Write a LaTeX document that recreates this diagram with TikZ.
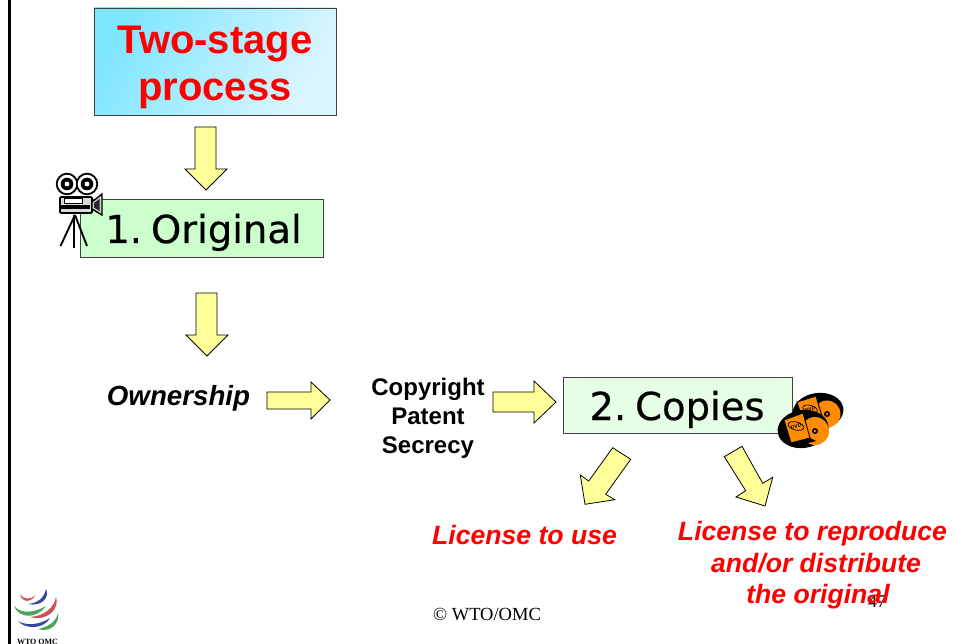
\documentclass[tikz,border=0pt]{standalone}
\usepackage{fontspec}
\setmainfont{Liberation Sans}
\newfontfamily\vfont[FakeBold=0.5,WordSpace=0.4]{DejaVu Sans}
\newfontfamily\tfont{Liberation Serif}
\usetikzlibrary{shadings}
\definecolor{arrowfill}{HTML}{FFFF99}
\definecolor{titleA}{HTML}{7FE6FF}
\definecolor{titleB}{HTML}{DCF6FF}
\definecolor{origfill}{HTML}{CCFFCC}
\definecolor{copyfill}{HTML}{E6FFE6}
\definecolor{dvdorange}{HTML}{FF8C00}
\definecolor{wred}{HTML}{D0505A}
\definecolor{wblue}{HTML}{34499C}
\definecolor{wgreen}{HTML}{4AA65A}
\tikzset{
  blockarrow/.style={draw=black,line width=0.8pt,fill=arrowfill,line join=miter},
  boxedge/.style={draw=black!75,line width=0.9pt},
  numlabel/.style={font=\vfont\fontsize{38.5}{44}\selectfont,text=black,inner sep=0pt,anchor=base},
  redlabel/.style={font=\bfseries\itshape\fontsize{26.6}{32}\selectfont,text=red,inner sep=0pt,anchor=base},
  blacklabel/.style={font=\bfseries\fontsize{24}{29}\selectfont,text=black,inner sep=0pt,anchor=base},
  titlelabel/.style={inner sep=0pt,anchor=base,text=red,font=\bfseries\fontsize{40}{48}\selectfont},
  camline/.style={draw=black,line width=1.9pt},
  reel/.style={fill=white,draw=black,line width=1.8pt},
  dvdcase/.style={draw=black,fill=dvdorange,line width=0.9pt},
  dvdoval/.style={draw=black,fill=dvdorange,line width=0.7pt},
  dvdtext/.style={font=\bfseries\itshape\fontsize{5}{6}\selectfont,inner sep=0pt}
}
\begin{document}
\begin{tikzpicture}[x=1pt,y=-1pt]
\useasboundingbox (0,0) rectangle (955,644);
\fill[white] (0,0) rectangle (955,644);
% left rule
\fill[black] (8,0) rectangle (10.5,644);
% title box
\path[boxedge,left color=titleA,right color=titleB,shading angle=60] (94,8) rectangle (336,115);
\node[titlelabel] (title1) at (215,54) {Two-stage};
\node[titlelabel] (title2) at (215,101) {process};
% boxes
\path[boxedge,fill=origfill] (80,199) rectangle (323,257);
\path[boxedge,fill=copyfill] (563,377) rectangle (792,433);
% block arrows
\path[blockarrow] (195,127) -- (216,127) -- (216,169) -- (227,169) -- (206,190) -- (185,169) -- (195,169) -- cycle;
\path[blockarrow] (196,293) -- (217,293) -- (217,335) -- (228,335) -- (207,356) -- (186,335) -- (196,335) -- cycle;
\path[blockarrow] (267,392) -- (311,392) -- (311,382) -- (330,400) -- (311,419) -- (311,409) -- (267,409) -- cycle;
\path[blockarrow] (493,392) -- (534,392) -- (534,381) -- (556,402) -- (534,423) -- (534,412) -- (493,412) -- cycle;
\path[blockarrow] (612.7,447.7) -- (630.7,459.3) -- (605.7,494.3) -- (614.7,499.7) -- (585,504.3) -- (580.3,475) -- (588.7,481) -- cycle;
\path[blockarrow] (724.3,456.7) -- (742,446.3) -- (762.7,483.3) -- (772.7,477.3) -- (765,506) -- (736,497) -- (745.7,490.7) -- cycle;
% camera
\draw[camline] (75,215) -- (60.5,246) (74,215) -- (74,248) (75,215) -- (87,246);
\path[reel] (67,184) circle (10.3);
\path[reel] (87,184) circle (10.3);
\fill[black] (67,184) circle (6.3) (87,184) circle (6.3);
\fill[white] (67,184) circle (2.4) (87,184) circle (2.4);
\path[draw=black,fill=black!15,line width=1.6pt,rounded corners=1pt] (60,197) rectangle (92,213);
\path[draw=black,fill=white,line width=0.9pt] (64,198) rectangle (82,203);
\fill[black] (61,205) rectangle (90,209);
\path[draw=black,fill=black!20,line width=1.4pt] (92,202) -- (102,194) -- (102,215) -- (92,209) -- cycle;
\fill[black!85] (94,203) -- (99.5,199) -- (99.5,211) -- (94,207.5) -- cycle;
% DVDs: back
\fill[black,rotate around={8:(818,411.5)}] (818,411.5) ellipse (25.5 and 18.5);
\fill[dvdorange] (827,414) circle (13.5);
\fill[black] (827,414) circle (3);
\fill[dvdorange] (827,414) circle (1.3);
\path[dvdcase] (797,402) -- (816,396) -- (823,420) -- (804,425) -- cycle;
\path[dvdoval,rotate around={-15:(810,409)}] (810,409) ellipse (7.5 and 3.6);
\node[dvdtext,rotate=15] (dvdb) at (810,409) {DVD};
% DVDs: front
\fill[black,rotate around={8:(803,429)}] (803,429) ellipse (25.5 and 19);
\fill[dvdorange] (815,431) circle (14);
\fill[black] (815,431) circle (3);
\fill[dvdorange] (815,431) circle (1.3);
\path[dvdcase] (784,420) -- (803,413) -- (810,438) -- (791,443) -- cycle;
\fill[black] (791,443) -- (810,438) -- (816,441) -- (793,447) -- cycle;
\path[dvdoval,rotate around={-15:(796,426)}] (796,426) ellipse (8 and 4);
\node[dvdtext,rotate=15] (dvdf) at (796,426) {DVD};
% texts
\node[numlabel] (orig) at (203.5,243) {1. Original};
\node[numlabel] (copies) at (677,420) {2. Copies};
\node[inner sep=0pt,anchor=base,font=\bfseries\itshape\fontsize{27.7}{32}\selectfont] (own) at (178.5,405) {Ownership};
\node[blacklabel] (l1) at (428,395) {Copyright};
\node[blacklabel] (l2) at (428,424) {Patent};
\node[blacklabel] (l3) at (428,453) {Secrecy};
\node[inner sep=0pt,anchor=base,font=\tfont\fontsize{18.5}{22}\selectfont] (foot) at (487,620) {© WTO/OMC};
\node[inner sep=0pt,anchor=base,font=\tfont\fontsize{18}{22}\selectfont] (page) at (877,607) {47};
\node[redlabel] (use) at (524.5,544) {License to use};
\node[redlabel] (r1) at (812.5,540) {License to reproduce};
\node[redlabel] (r2) at (816,572) {and/or distribute};
\node[redlabel] (r3) at (818,603) {the original};
% logo
\fill[wred] (20,594) .. controls (24,600) and (30,600) .. (36,595) .. controls (30,603) and (22,603) .. cycle;
\fill[wblue] (28,604) .. controls (38,603) and (44,598) .. (46,589) .. controls (50,597) and (42,607) .. cycle;
\fill[wgreen] (14,606) .. controls (22,615) and (36,612) .. (46,606) .. controls (38,618) and (20,620) .. cycle;
\fill[wred] (30,617) .. controls (44,616) and (54,608) .. (56,597) .. controls (60,608) and (48,622) .. cycle;
\fill[wblue] (18,621) .. controls (26,626) and (40,625) .. (50,618) .. controls (44,629) and (26,630) .. cycle;
\fill[wgreen] (38,629) .. controls (48,627) and (56,622) .. (58,613) .. controls (60,624) and (50,633) .. cycle;
\node[inner sep=0pt,anchor=base,font=\tfont\bfseries\fontsize{8}{9}\selectfont] (wto) at (37.5,644) {WTO OMC};
\end{tikzpicture}
\end{document}
